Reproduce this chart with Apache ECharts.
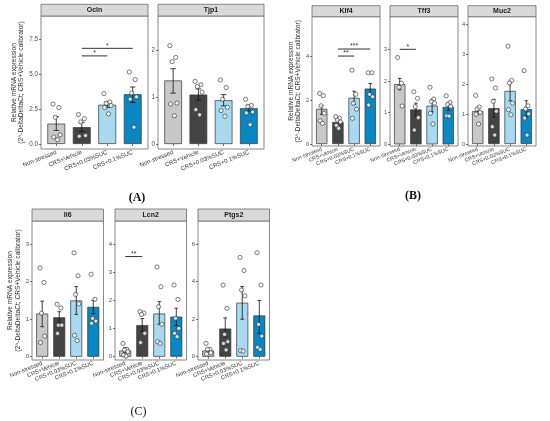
<!DOCTYPE html>
<html><head><meta charset="utf-8">
<script src="https://cdn.jsdelivr.net/npm/echarts@6/dist/echarts.min.js"></script>
<style>html,body{margin:0;padding:0;background:#fff}#c{width:550px;height:421px}</style>
</head><body><div id="c"></div>
<script>
// ---------- DATA ----------
const categories = ['Non-stressed', 'CRS+Vehicle', 'CRS+0.03%SUC', 'CRS+0.1%SUC'];
const genes = ['Ocln', 'Tjp1', 'Klf4', 'Tff3', 'Muc2', 'Il6', 'Lcn2', 'Ptgs2'];
const panelLabels = ['(A)', '(B)', '(C)'];

const oclnMeans = [1.45, 1.2, 2.8, 3.55];
const oclnLow   = [0.97, 0.88, 2.6, 2.97];
const oclnHigh  = [1.95, 1.53, 3.0, 4.07];
const oclnPoints = [[2.85, 2.6, 1.9, 0.65, 0.5, 0.3], [2.1, 1.8, 1.57, 0.6, 0.55], [3.6, 3.0, 2.9, 2.75, 2.6, 2.15], [5.14, 4.6, 3.64, 3.36, 3.2, 1.2]];
const oclnSig = [[2, 3, 6.29, '*'], [2, 4, 6.83, '*']];
const oclnTicks = [0, 2.5, 5, 7.5];

const tjp1Means = [1.35, 1.05, 0.93, 0.76];
const tjp1Low   = [1.08, 0.93, 0.81, 0.70];
const tjp1High  = [1.6, 1.17, 1.05, 0.82];
const tjp1Points = [[2.09, 1.84, 1.75, 0.87, 0.85, 0.6], [1.33, 1.26, 1.22, 1.1, 0.73, 0.62], [1.36, 1.2, 0.95, 0.78, 0.71, 0.59], [0.95, 0.82, 0.8, 0.68, 0.66, 0.41]];
const tjp1Sig = [];
const tjp1Ticks = [0, 1, 2];

const klf4Means = [1.6, 1.0, 2.1, 2.52];
const klf4Low   = [1.35, 0.93, 1.8, 2.3];
const klf4High  = [1.75, 1.08, 2.4, 2.75];
const klf4Points = [[2.3, 2.2, 1.74, 1.4, 1.06, 0.94], [1.24, 1.17, 1.09, 1.0, 0.85, 0.71], [3.36, 2.26, 1.85, 1.58, 1.17], [3.24, 3.24, 2.26, 2.15, 1.77]];
const klf4Sig = [[2, 3, 4.0, '**'], [2, 4, 4.32, '***']];
const klf4Ticks = [0, 2, 4];

const tff3Means = [1.9, 1.1, 1.22, 1.18];
const tff3Low   = [1.72, 0.87, 1.02, 1.07];
const tff3High  = [2.08, 1.3, 1.4, 1.28];
const tff3Points = [[2.74, 1.93, 1.8, 1.21], [1.66, 1.45, 1.19, 0.84, 0.45], [1.8, 1.43, 1.35, 1.3, 0.98, 0.64], [1.53, 1.32, 1.26, 1.19, 0.9, 0.89]];
const tff3Sig = [[1, 2, 3.0, '*']];
const tff3Ticks = [0, 1, 2, 3];

const muc2Means = [1.1, 1.2, 1.78, 1.17];
const muc2Low   = [1.0, 0.9, 1.45, 0.9];
const muc2High  = [1.2, 1.5, 2.1, 1.45];
const muc2Points = [[1.63, 1.24, 1.17, 1.06, 1.0, 0.67], [2.18, 1.88, 1.43, 1.1, 0.58, 0.3], [3.28, 2.13, 2.05, 1.37, 1.15, 0.98], [2.46, 1.28, 1.17, 1.01, 0.87, 0.3]];
const muc2Sig = [];
const muc2Ticks = [0, 1, 2, 3, 4];

const il6Means = [1.15, 1.05, 1.5, 1.33];
const il6Low   = [0.8, 0.9, 1.13, 1.15];
const il6High  = [1.48, 1.2, 1.87, 1.5];
const il6Points = [[2.37, 1.98, 1.16, 0.55, 0.38], [1.4, 1.3, 0.84, 0.84, 0.62], [2.77, 2.16, 1.66, 1.41, 0.57, 0.43], [2.2, 1.53, 1.02, 0.95, 0.89]];
const il6Sig = [];
const il6Ticks = [0, 1, 2, 3];

const lcn2Means = [0.22, 1.12, 1.53, 1.42];
const lcn2Low   = [0.15, 0.9, 1.15, 1.1];
const lcn2High  = [0.32, 1.35, 1.95, 1.72];
const lcn2Points = [[0.47, 0.26, 0.24, 0.18, 0.06, 0.02], [1.6, 1.55, 1.5, 0.83, 0.5], [3.18, 2.48, 1.77, 1.15, 0.53, 0.47], [2.54, 2.03, 1.36, 1.0, 0.83, 0.71]];
const lcn2Sig = [[1, 2, 3.55, '**']];
const lcn2Ticks = [0, 1, 2, 3, 4];

const ptgs2Means = [0.33, 1.5, 2.88, 2.2];
const ptgs2Low   = [0.25, 1.05, 2.0, 1.25];
const ptgs2High  = [0.42, 2.07, 3.75, 3.0];
const ptgs2Points = [[0.71, 0.39, 0.39, 0.21, 0.14], [3.82, 2.58, 1.19, 0.8, 0.71, 0.36], [5.3, 4.6, 3.56, 3.25, 0.33, 0.3], [5.55, 3.82, 1.72, 1.1, 0.5, 0.39]];
const ptgs2Sig = [];
const ptgs2Ticks = [0, 2, 4, 6];

// ---------- LAYOUT / STYLE ----------
const barColors = ['#c8c8c8', '#444444', '#a8d9ee', '#0a86c2'];
const yTitle = 'Relative mRNA expression\n(2^-DeltaDeltaCt; CRS+Vehicle calibrator)';
const jit = [-0.13, 0.1, -0.04, 0.15, -0.1, 0.05, 0.12];

const panels = [
  {gene: 0, means: oclnMeans, low: oclnLow, high: oclnHigh, pts: oclnPoints, sig: oclnSig, ticks: oclnTicks, dec: 1,
   left: 41, top: 16, width: 107, height: 133, yMin: -0.36, yMax: 9.14, stripTop: 4.3, fs: 6, yName: true, nameGap: 14, lab: 6.3},
  {gene: 1, means: tjp1Means, low: tjp1Low, high: tjp1High, pts: tjp1Points, sig: tjp1Sig, ticks: tjp1Ticks, dec: 0,
   left: 158, top: 16, width: 106, height: 133, yMin: -0.106, yMax: 2.72, stripTop: 4.3, fs: 6, lab: 6.3},
  {gene: 2, means: klf4Means, low: klf4Low, high: klf4High, pts: klf4Points, sig: klf4Sig, ticks: klf4Ticks, dec: 0,
   left: 312, top: 16.7, width: 68, height: 129.3, yMin: -0.09, yMax: 5.79, stripTop: 5.7, fs: 5.3, yName: true, nameGap: 6, lab: 5.6},
  {gene: 3, means: tff3Means, low: tff3Low, high: tff3High, pts: tff3Points, sig: tff3Sig, ticks: tff3Ticks, dec: 0,
   left: 390, top: 16.7, width: 68, height: 129.3, yMin: -0.054, yMax: 4.03, stripTop: 5.7, fs: 5.3, lab: 5.6},
  {gene: 4, means: muc2Means, low: muc2Low, high: muc2High, pts: muc2Points, sig: muc2Sig, ticks: muc2Ticks, dec: 0,
   left: 468, top: 16.7, width: 68, height: 129.3, yMin: -0.067, yMax: 4.27, stripTop: 5.7, fs: 5.3, lab: 5.6},
  {gene: 5, means: il6Means, low: il6Low, high: il6High, pts: il6Points, sig: il6Sig, ticks: il6Ticks, dec: 0,
   left: 32, top: 221, width: 71.5, height: 139, yMin: -0.088, yMax: 3.62, stripTop: 209, fs: 5.8, yName: true, nameGap: 8, lab: 6},
  {gene: 6, means: lcn2Means, low: lcn2Low, high: lcn2High, pts: lcn2Points, sig: lcn2Sig, ticks: lcn2Ticks, dec: 0,
   left: 115, top: 221, width: 71.5, height: 139, yMin: -0.117, yMax: 4.81, stripTop: 209, fs: 5.8, lab: 6},
  {gene: 7, means: ptgs2Means, low: ptgs2Low, high: ptgs2High, pts: ptgs2Points, sig: ptgs2Sig, ticks: ptgs2Ticks, dec: 0,
   left: 198, top: 221, width: 71.5, height: 139, yMin: -0.176, yMax: 7.24, stripTop: 209, fs: 5.8, lab: 6}
];

const FONT = 'Liberation Sans, Arial, Helvetica, sans-serif';
const grid = [], xAxis = [], yAxis = [], series = [], graphic = [];

panels.forEach((p, i) => {
  grid.push({left: p.left, top: p.top, width: p.width, height: p.height, show: true,
    borderColor: '#6a6a6a', borderWidth: 0.8, backgroundColor: '#fff', containLabel: false});
  xAxis.push({type: 'value', gridIndex: i, min: 0.4, max: 4.6,
    axisLine: {show: false}, splitLine: {show: false},
    axisTick: {show: true, customValues: [1, 2, 3, 4], length: 2, lineStyle: {color: '#333', width: 0.7}},
    axisLabel: {show: true, customValues: [1, 2, 3, 4], rotate: 22, margin: 3, fontSize: p.fs, color: '#333', fontFamily: FONT,
      formatter: v => categories[Math.round(v) - 1]}});
  const ya = {type: 'value', gridIndex: i, min: p.yMin, max: p.yMax,
    axisLine: {show: false}, splitLine: {show: false},
    axisTick: {show: true, customValues: p.ticks, length: 2, lineStyle: {color: '#333', width: 0.7}},
    axisLabel: {show: true, customValues: p.ticks, margin: 3, fontSize: p.lab, color: '#4d4d4d', fontFamily: FONT,
      formatter: v => Number(v).toFixed(p.dec)}};
  if (p.yName) {
    Object.assign(ya, {name: yTitle, nameLocation: 'middle', nameRotate: 90, nameGap: p.nameGap,
      nameTextStyle: {fontSize: 6.6, lineHeight: 7.5, color: '#333', fontFamily: FONT}});
  }
  yAxis.push(ya);

  const bw = 0.7 * p.width / 4.2;
  series.push({type: 'bar', xAxisIndex: i, yAxisIndex: i, barWidth: bw, silent: true,
    data: p.means.map((m, j) => ({value: [j + 1, m], itemStyle: {color: barColors[j]}})),
    itemStyle: {borderColor: '#333', borderWidth: 0.7}, z: 2});
  series.push({type: 'custom', xAxisIndex: i, yAxisIndex: i, silent: true, z: 3,
    data: p.means.map((m, j) => [j + 1, p.low[j], p.high[j]]),
    renderItem: (params, api) => {
      const x = api.value(0);
      const a = api.coord([x, api.value(1)]), b = api.coord([x, api.value(2)]);
      const hw = api.size([0.11, 0])[0];
      const st = {stroke: '#111', lineWidth: 0.8};
      return {type: 'group', children: [
        {type: 'line', shape: {x1: a[0], y1: a[1], x2: b[0], y2: b[1]}, style: st},
        {type: 'line', shape: {x1: a[0] - hw, y1: a[1], x2: a[0] + hw, y2: a[1]}, style: st},
        {type: 'line', shape: {x1: b[0] - hw, y1: b[1], x2: b[0] + hw, y2: b[1]}, style: st}
      ]};
    }});
  const pdata = [];
  p.pts.forEach((arr, j) => arr.forEach((v, k) => pdata.push([j + 1 + jit[k % jit.length], v])));
  series.push({type: 'scatter', xAxisIndex: i, yAxisIndex: i, silent: true, z: 4, data: pdata,
    symbolSize: 4.2, itemStyle: {color: '#fff', borderColor: '#333', borderWidth: 0.8}});
  if (p.sig.length) {
    const labels = p.sig.map(s => s[3]);
    series.push({type: 'custom', xAxisIndex: i, yAxisIndex: i, silent: true, z: 5,
      data: p.sig.map(s => [s[0], s[1], s[2]]),
      renderItem: (params, api) => {
        const a = api.coord([api.value(0), api.value(2)]);
        const b = api.coord([api.value(1), api.value(2)]);
        return {type: 'group', children: [
          {type: 'line', shape: {x1: a[0], y1: a[1], x2: b[0], y2: b[1]}, style: {stroke: '#333', lineWidth: 1}},
          {type: 'text', x: (a[0] + b[0]) / 2, y: a[1] + 1, style: {text: labels[params.dataIndex], fontSize: 7,
            fontFamily: FONT, fill: '#333', align: 'center', verticalAlign: 'bottom'}}
        ]};
      }});
  }
  // strip
  const sh = p.top - p.stripTop;
  graphic.push({type: 'rect', shape: {x: p.left, y: p.stripTop, width: p.width, height: sh},
    style: {fill: '#d9d9d9', stroke: '#6a6a6a', lineWidth: 0.8}, silent: true});
  graphic.push({type: 'text', x: p.left + p.width / 2, y: p.stripTop + sh / 2, silent: true,
    style: {text: genes[p.gene], fontSize: 7, fontWeight: 'bold', fontFamily: FONT, fill: '#1a1a1a',
      align: 'center', verticalAlign: 'middle'}});
});

const labelPos = [[137, 197.5, 'bold'], [413, 195.5, 'bold'], [138.5, 412, 'normal']];
panelLabels.forEach((t, k) => {
  graphic.push({type: 'text', x: labelPos[k][0], y: labelPos[k][1], silent: true,
    style: {text: t, fontSize: 12, fontWeight: labelPos[k][2], fontFamily: 'Liberation Serif, Times New Roman, serif',
      fill: '#111', align: 'center', verticalAlign: 'middle'}});
});

const chart = echarts.init(document.getElementById('c'), null, {renderer: 'canvas'});
chart.setOption({animation: false, backgroundColor: '#fff', grid, xAxis, yAxis, series, graphic});
</script></body></html>
